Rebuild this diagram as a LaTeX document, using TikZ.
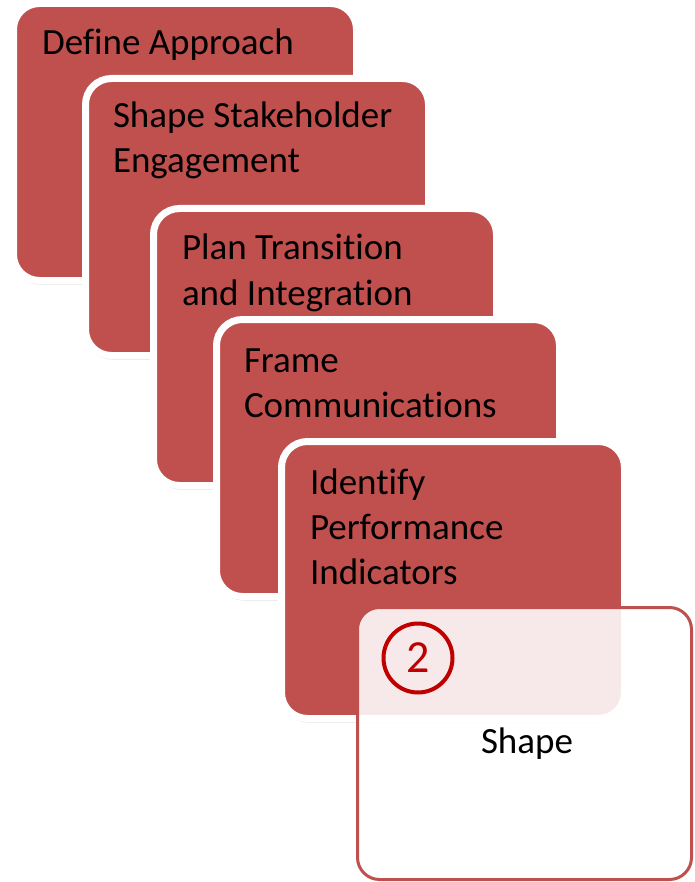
\documentclass[tikz,border=0pt]{standalone}
\usepackage{fontspec}
\setmainfont{Carlito}[Ligatures=NoCommon]
\definecolor{cardred}{HTML}{C0504D}
\definecolor{darkred}{HTML}{C00000}
\newcommand{\firstln}{\rule{0pt}{37pt}}
\begin{document}
\begin{tikzpicture}[x=1pt,y=-1pt,
  card/.style={rectangle, rounded corners=26pt, fill=cardred, draw=white, line width=7pt,
    minimum width=343pt, minimum height=277pt, anchor=north west, inner sep=0pt, outer sep=0pt},
  cshadow/.style={rectangle, rounded corners=28pt, fill=black, opacity=0.13,
    minimum width=345pt, minimum height=277pt, anchor=north west, inner sep=0pt, outer sep=0pt},
  cardtext/.style={anchor=north west, inner sep=0pt, outer sep=0pt, align=left,
    font=\fontsize{37}{45}\selectfont, text=black},
  overlay/.style={rectangle, rounded corners=22pt, draw=cardred, line width=3pt,
    fill=white, fill opacity=0.88, minimum width=334pt, minimum height=272pt,
    anchor=north west, inner sep=0pt, outer sep=0pt},
  numcircle/.style={circle, draw=darkred, line width=4pt, minimum size=69pt, inner sep=0pt,
    text=darkred, font=\fontsize{46}{46}\selectfont}
]
\useasboundingbox (0,0) rectangle (694,882);
% card 1
\node[cshadow] (s1) at (12.5,7.5) {};
\node[card] (c1) at (13.5,3.5) {};
\node[cardtext] (t1) at (42,18) {\firstln Define Approach};
% card 2
\node[cshadow] (s2) at (84.5,82.5) {};
\node[card] (c2) at (85.5,78.5) {};
\node[cardtext] (t2) at (113,91) {\firstln Shape Stakeholder\\Engagement};
% card 3
\node[cshadow] (s3) at (152.5,212.5) {};
\node[card] (c3) at (153.5,208.5) {};
\node[cardtext] (t3) at (182,223) {\firstln Plan Transition\\and Integration};
% card 4
\node[cshadow] (s4) at (215.5,323.5) {};
\node[card] (c4) at (216.5,319.5) {};
\node[cardtext] (t4) at (244,335) {\firstln Frame\\Communications};
% card 5
\node[cshadow] (s5) at (280.5,445.5) {};
\node[card] (c5) at (281.5,441.5) {};
\node[cardtext] (t5) at (310,457) {\firstln Identify\\Performance\\Indicators};
% overlay box
\node[overlay] (ov) at (357.5,607.5) {};
\node[numcircle] (n2) at (418,658) {2};
\node[anchor=base, inner sep=0pt, font=\fontsize{37}{40}\selectfont] (lbl) at (527,753) {Shape};
\end{tikzpicture}
\end{document}
